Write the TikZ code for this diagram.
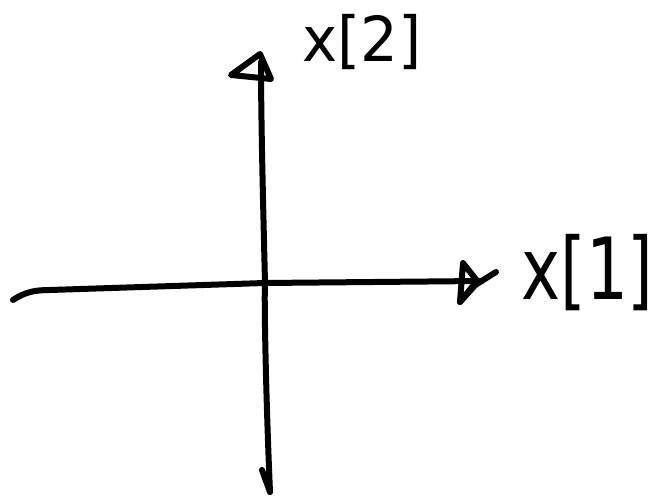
\documentclass[tikz,border=0pt]{standalone}
\usepackage{fontspec}
\newfontfamily\handfont{DejaVu Sans}
\begin{document}
\begin{tikzpicture}[x=1pt,y=-1pt,
  stroke/.style={line width=6pt,line cap=round,line join=round,black},
  axislabel/.style={font=\handfont, inner sep=0pt, anchor=west}]
\useasboundingbox (0,0) rectangle (657,497);
% vertical axis
\coordinate (vtop) at (261,62);
\coordinate (vbot) at (270,492);
\coordinate (vmid) at (265,283);
\draw[stroke] (vbot) .. controls (266,400) and (264,300) .. (vmid)
  .. controls (263,200) and (261,120) .. (vtop);
% top arrowhead (open triangle)
\coordinate (ta) at (260,54);
\coordinate (tl) at (231,75);
\coordinate (tr) at (271,79);
\draw[stroke] (ta) -- (tl) -- (tr) -- cycle;
% bottom hook
\coordinate (bh) at (262,470);
\draw[stroke] (bh) -- (vbot);
% horizontal axis
\coordinate (hl) at (13,300);
\coordinate (hr) at (482,281);
\draw[stroke] (hl) .. controls (25,292) and (35,290) .. (50,290)
  -- (vmid) -- (hr);
% right arrowhead
\coordinate (ra) at (463,263);
\coordinate (rb) at (460,302);
\coordinate (rc) at (496,272);
\draw[stroke] (ra) -- (478,282) -- (rb) -- (ra);
\draw[stroke] (rb) -- (472,287) -- (rc);
% labels
\node[axislabel, font=\handfont\fontsize{54}{54}\selectfont, xscale=1.1, yscale=1.15] (lab2) at (302,42) {x[2]};
\node[axislabel, font=\handfont\fontsize{66}{66}\selectfont, yscale=1.3] (lab1) at (521,273) {x[1]};
\end{tikzpicture}
\end{document}
